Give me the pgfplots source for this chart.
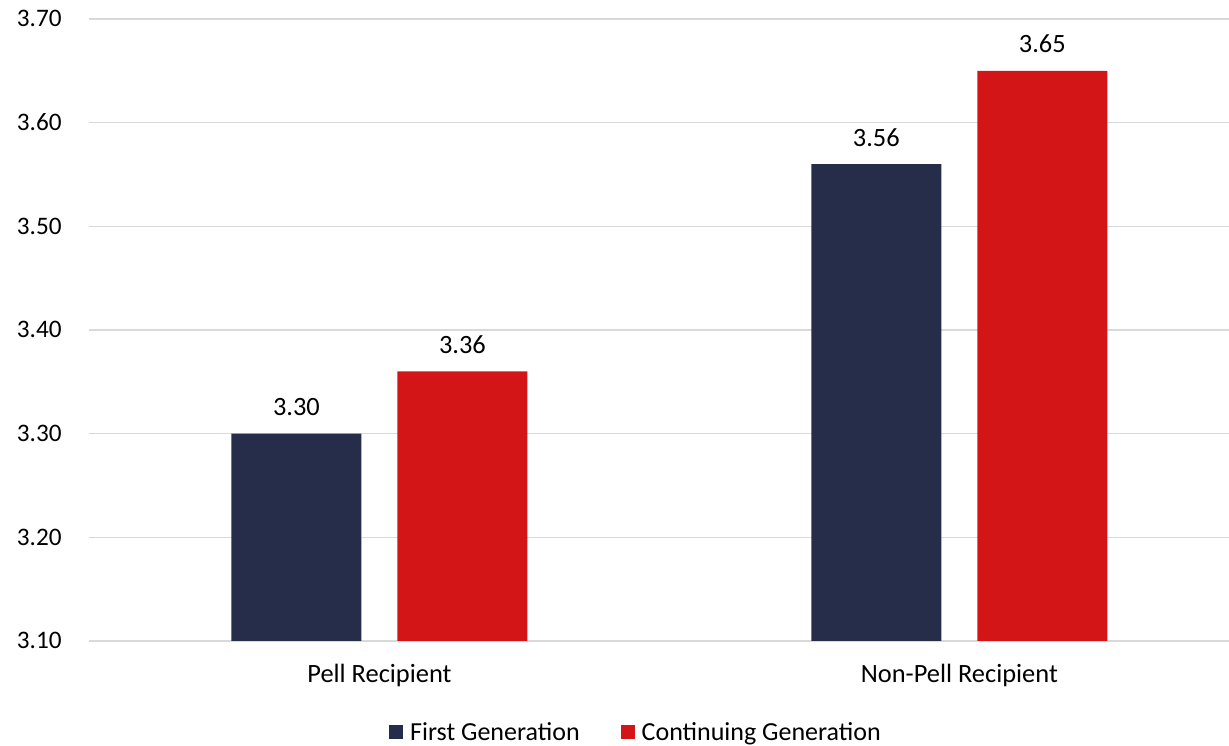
\documentclass[border=0pt]{standalone}
\usepackage{pgfplots}
\pgfplotsset{compat=1.18}
\usepackage{fontspec}
\setmainfont{Carlito}
\definecolor{navy}{HTML}{252D4B}
\definecolor{cred}{HTML}{D41518}
\definecolor{gridgray}{HTML}{D9D9D9}
\begin{document}
\begin{tikzpicture}
\begin{axis}[
  name=ax,
  scale only axis,
  width=569.75pt, height=311pt,
  xmin=-0.5, xmax=1.465,
  ymin=3.1, ymax=3.7,
  ytick={3.1,3.2,3.3,3.4,3.5,3.6,3.7},
  xtick={0,1},
  xticklabels={Pell Recipient, Non-Pell Recipient},
  ymajorgrids,
  grid style={draw=gridgray, line width=0.75pt},
  axis line style={draw=none},
  major tick length=0pt,
  font=\fontsize{13.2}{15}\selectfont,
  /pgf/number format/assume math mode=true,
  yticklabel style={font=\fontsize{12.6}{15}\selectfont, /pgf/number format/.cd, fixed, fixed zerofill, precision=2, /tikz/.cd, anchor=base east, inner sep=0pt, xshift=-13.75pt, yshift=-4pt},
  xticklabel style={anchor=base, inner sep=0pt, yshift=-21pt},
  ybar,
  bar width=65pt,
  nodes near coords,
  nodes near coords style={font=\fontsize{13.2}{15}\selectfont, /pgf/number format/.cd, fixed, fixed zerofill, precision=2, /tikz/.cd, anchor=base, inner sep=0pt, yshift=9pt},
  legend columns=2,
  legend cell align=left,
  legend style={at={(axis description cs:0.4787,-0.146)}, anchor=center, draw=none, fill=none,
    font=\fontsize{13}{15}\selectfont,
    /tikz/every even column/.append style={column sep=20.5pt},
    nodes={inner sep=0pt, outer sep=0pt, text depth=0pt}},
  legend image code/.code={\path[#1, draw=none] (0pt,-3.5pt) rectangle (7pt,3.5pt); \path (10.5pt,0pt);},
]
\addplot[fill=navy, draw=none, bar shift=-41.5pt] coordinates {(0,3.30) (1,3.56)};
\addplot[fill=cred, draw=none, bar shift=41.5pt] coordinates {(0,3.36) (1,3.65)};
\legend{First Generation, Continuing Generation}
\end{axis}
\pgfresetboundingbox
\path ([xshift=-44.75pt,yshift=-52.5pt]ax.south west) rectangle ([yshift=9.5pt]ax.north east);
\end{tikzpicture}
\end{document}
